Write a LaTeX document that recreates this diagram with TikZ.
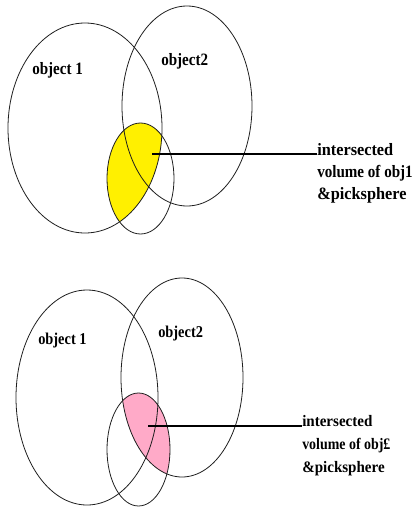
\documentclass[tikz,border=0pt]{standalone}
\usepackage{fontspec}
\setmainfont{Liberation Serif}
% bold serif, slightly narrowed, and a narrower cut of it
\newfontfamily\notefont[FakeStretch=0.94]{Liberation Serif Bold}
\newfontfamily\notefontnarrow[FakeStretch=0.87]{Liberation Serif Bold}
\definecolor{lensyellow}{RGB}{255,240,0}
\definecolor{lenspink}{RGB}{255,170,200}
\definecolor{inkline}{RGB}{30,30,30}
\begin{document}
\begin{tikzpicture}[x=0.75pt,y=-0.75pt,
  outline/.style={draw=inkline,line width=0.6pt},
  leader/.style={draw=black,line width=0.9pt},
  objlabel/.style={anchor=base west,inner sep=0pt,font=\notefontnarrow\fontsize{13}{14}\selectfont},
  objlabelsm/.style={objlabel,font=\notefontnarrow\fontsize{12.4}{14}\selectfont},
  % multi-line notes are placed by the baseline of their last line
  notelabel/.style={anchor=base west,inner sep=0pt,align=left,font=\notefont\fontsize{13}{16.5}\selectfont},
  notelabelsm/.style={notelabel,font=\notefont\fontsize{12}{16.9}\selectfont}]
\useasboundingbox (0,0) rectangle (412,508);

% ---------- upper sketch: object 1, object2 and the pick sphere ----------
\coordinate (ta) at (85,128);
\coordinate (tb) at (187,106);
\coordinate (ts) at (140.5,178.5);
\begin{scope}
  \clip (ta) ellipse [x radius=77,y radius=105];
  \fill[lensyellow] (ts) ellipse [x radius=33.5,y radius=55.5];
\end{scope}
\draw[outline] (ta) ellipse [x radius=77,y radius=105];
\draw[outline] (tb) ellipse [x radius=65,y radius=100];
\draw[outline] (ts) ellipse [x radius=33.5,y radius=55.5];

\node[objlabel] (tobj1) at (32,74) {object 1};
\node[objlabel] (tobj2) at (161,65) {object2};

\coordinate (tpick) at (152,154);
\node[notelabel] (tnote) at (317,199) {intersected\\{\notefontnarrow volume of obj1}\\\&picksphere};
\draw[leader] (tpick) -- (tpick -| tnote.west);

% ---------- lower sketch: object 1, object2 and the pick sphere ----------
\coordinate (ba) at (87,397.5);
\coordinate (bb) at (182,377.5);
\coordinate (bs) at (138.5,449.5);
\begin{scope}
  \clip (bb) ellipse [x radius=61,y radius=99.5];
  \fill[lenspink] (bs) ellipse [x radius=31.5,y radius=56.5];
\end{scope}
\draw[outline] (ba) ellipse [x radius=71,y radius=107.5];
\draw[outline] (bb) ellipse [x radius=61,y radius=99.5];
\draw[outline] (bs) ellipse [x radius=31.5,y radius=56.5];

\node[objlabelsm] (bobj1) at (38,344) {object 1};
\node[objlabelsm] (bobj2) at (158,337) {object2};

\coordinate (bpick) at (148,426);
\node[notelabelsm] (bnote) at (302,472) {intersected\\{\notefontnarrow volume of obj£}\\\&picksphere};
\draw[leader] (bpick) -- (bpick -| bnote.west);
\end{tikzpicture}
\end{document}
